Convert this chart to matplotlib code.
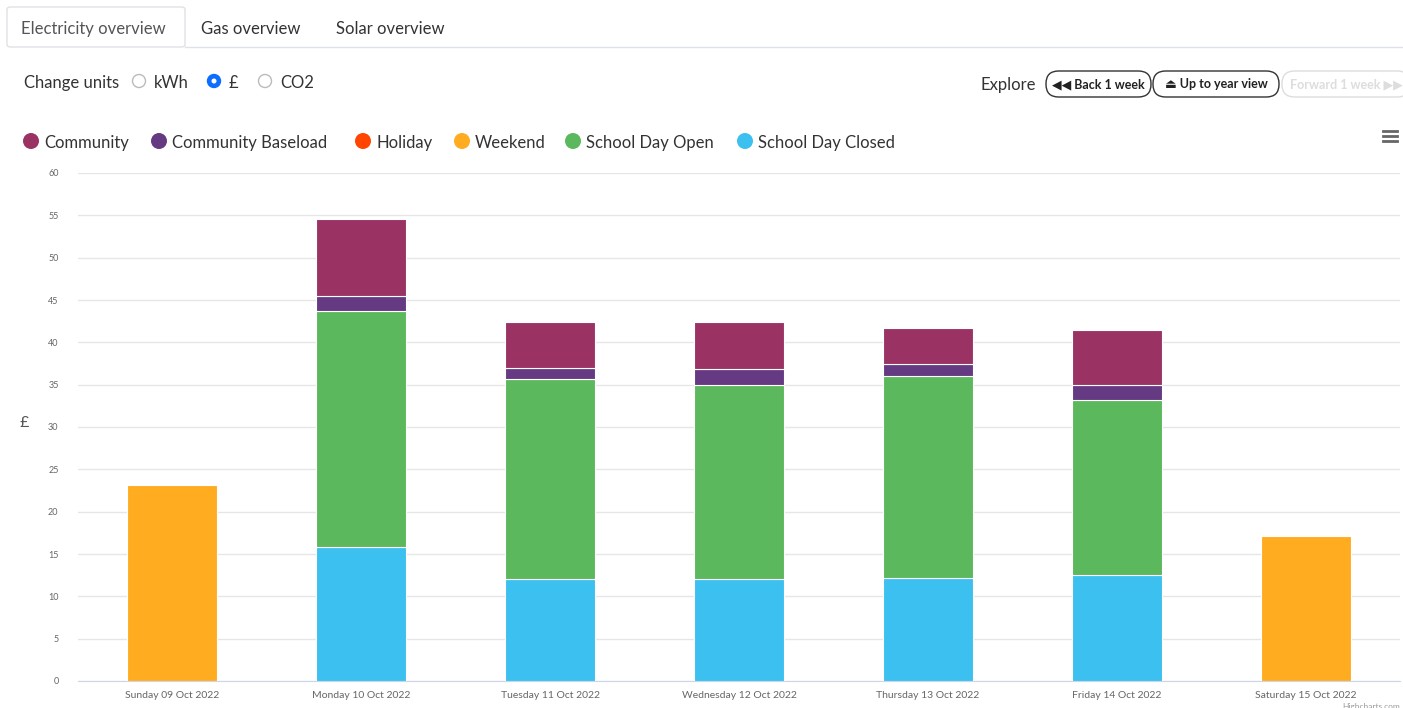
import numpy as np
import matplotlib
matplotlib.use('Agg')
import matplotlib.pyplot as plt
from matplotlib.patches import FancyBboxPatch, Ellipse
from matplotlib.lines import Line2D

plt.rcParams['font.family'] = ['Lato', 'DejaVu Sans']

days = ['Sunday 09 Oct 2022', 'Monday 10 Oct 2022', 'Tuesday 11 Oct 2022',
        'Wednesday 12 Oct 2022', 'Thursday 13 Oct 2022', 'Friday 14 Oct 2022',
        'Saturday 15 Oct 2022']
# segment heights in £, bottom to top
schoolClosed = [0, 15.8, 12.05, 12.05, 12.15, 12.5, 0]
schoolOpen = [0, 27.9, 23.6, 22.9, 23.85, 20.7, 0]
baseload = [0, 1.8, 1.3, 1.9, 1.4, 1.75, 0]
community = [0, 9.1, 5.45, 5.55, 4.25, 6.5, 0]
holiday = [0, 0, 0, 0, 0, 0, 0]
weekend = [23.15, 0, 0, 0, 0, 0, 17.15]

seriesNames = ['Community', 'Community Baseload', 'Holiday', 'Weekend',
               'School Day Open', 'School Day Closed']
colours = {'Community': '#9a3264', 'Community Baseload': '#663a82',
           'Holiday': '#ff4500', 'Weekend': '#ffac21',
           'School Day Open': '#5cb85c', 'School Day Closed': '#3bc0f0'}

W, H = 1403, 708
fig = plt.figure(figsize=(W / 100, H / 100), dpi=100)

def fx(px):
    return px / W

def fy(py):
    return 1 - py / H

def dot(px, py, r, **kw):
    fig.add_artist(Ellipse((fx(px), fy(py)), 2 * r / W, 2 * r / H,
                           transform=fig.transFigure, **kw))

ax = fig.add_axes([fx(78), fy(681), fx(1400 - 78), (681 - 173) / H])
x = np.arange(len(days))
stack = [('School Day Closed', schoolClosed), ('School Day Open', schoolOpen),
         ('Community Baseload', baseload), ('Community', community),
         ('Holiday', holiday), ('Weekend', weekend)]
bottom = np.zeros(len(days))
for name, vals in stack:
    vals = np.array(vals, dtype=float)
    mask = vals > 0
    ax.bar(x[mask], vals[mask], bottom=bottom[mask], width=0.476,
           color=colours[name], edgecolor='white', linewidth=0.8, zorder=3)
    bottom += vals

ax.set_xlim(-0.5, len(days) - 0.5)
ax.set_ylim(0, 60)
ax.set_yticks(np.arange(0, 61, 5))
ax.set_xticks(x)
ax.set_xticklabels(days)
ax.grid(axis='y', color='#e6e6e6', linewidth=1, zorder=0)
for s in ['top', 'right', 'left']:
    ax.spines[s].set_visible(False)
ax.spines['bottom'].set_color('#ccd6eb')
ax.tick_params(axis='y', length=0, labelsize=6.5, labelcolor='#666666', pad=14)
ax.tick_params(axis='x', length=0, labelsize=7.5, labelcolor='#666666', pad=7)
fig.text(fx(24), fy(423), '£', fontsize=11.5, color='#555555', va='center', ha='center')

# tabs
fig.add_artist(Line2D([fx(185), fx(1403)], [fy(47), fy(47)], color='#dee2e6', lw=1))
fig.add_artist(FancyBboxPatch((fx(7), fy(47)), fx(178), 40 / H,
                              boxstyle='round,pad=0,rounding_size=0.003',
                              fc='white', ec='#dee2e6', lw=1))
for label, px in [('Electricity overview', 21), ('Gas overview', 201), ('Solar overview', 336)]:
    fig.text(fx(px), fy(29), label, fontsize=12,
             color='#555555' if px == 21 else '#333333', va='center')

# units selector
fig.text(fx(24), fy(83), 'Change units', fontsize=12, color='#333333', va='center')
ux = [139, 214, 265]
ul = ['kWh', '£', 'CO2']
for i in range(3):
    sel = ul[i] == '£'
    dot(ux[i], 81, 6.5, fc='#0d6efd' if sel else 'white',
        ec='#0d6efd' if sel else '#bbbbbb', lw=1)
    if sel:
        dot(ux[i], 81, 2.5, fc='white', ec='none')
    fig.text(fx(ux[i] + 15), fy(83), ul[i], fontsize=12, color='#333333', va='center')

# explore buttons
fig.text(fx(981), fy(85), 'Explore', fontsize=12, color='#333333', va='center')
buttons = [('◀◀ Back 1 week', 1046, 1151, '#222222'),
           ('⏏ Up to year view', 1153, 1279, '#222222'),
           ('Forward 1 week ▶▶', 1282, 1410, '#dddddd')]
for label, x0, x1, c in buttons:
    fig.add_artist(FancyBboxPatch((fx(x0), fy(97)), fx(x1 - x0), 26 / H,
                                  boxstyle='round,pad=0,rounding_size=0.009',
                                  fc='white', ec=c if c != '#222222' else '#333333',
                                  lw=1, mutation_aspect=W / H))
    fig.text(fx((x0 + x1) / 2), fy(84), label, fontsize=9, color=c,
             va='center', ha='center', fontweight='bold')

# legend
lx = [31, 159, 363, 462, 573, 745]
for name, px in zip(seriesNames, lx):
    dot(px, 141, 8, fc=colours[name], ec='none')
    fig.text(fx(px + 13), fy(143), name, fontsize=12, color='#333333', va='center')

# menu icon
for dy in [131, 136, 141]:
    fig.add_artist(Line2D([fx(1383), fx(1397)], [fy(dy), fy(dy)], color='#666666', lw=2))

fig.text(fx(1342), fy(710), 'Highcharts.com', fontsize=6, color='#999999', va='bottom')

fig.savefig('out.png', dpi=100)
